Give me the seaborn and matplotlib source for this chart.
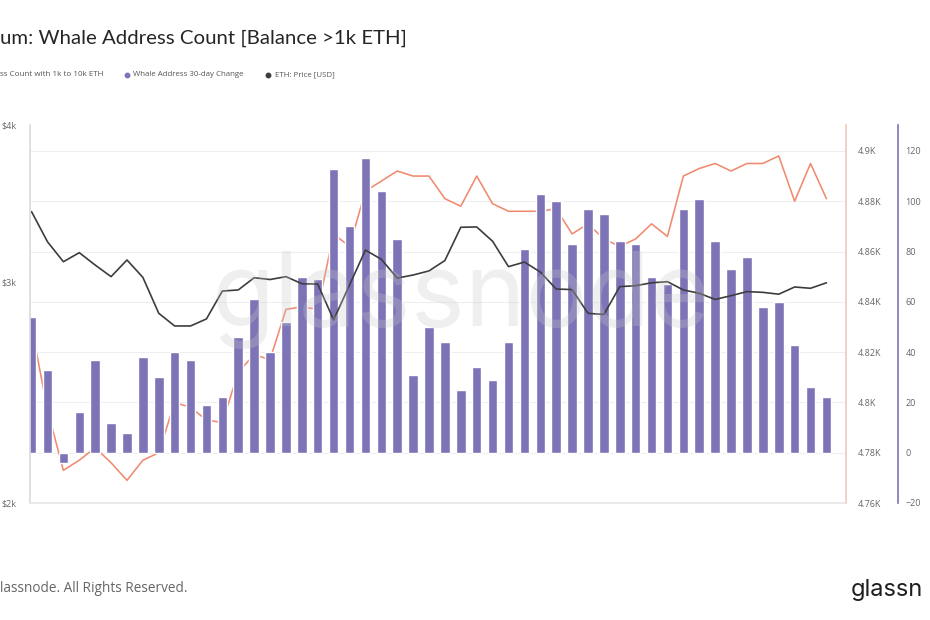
import matplotlib

matplotlib.use("Agg")
import matplotlib.pyplot as plt
import seaborn as sns
from matplotlib.lines import Line2D
from matplotlib.ticker import FixedLocator, FuncFormatter, NullLocator

# daily values from 12 Nov to 01 Jan (51 days)
whale_change = [
    54, 33, -4, 16, 37, 12, 8, 38, 30, 40, 37, 19, 22, 46, 61, 40, 52, 70, 69,
    113, 90, 117, 104, 85, 31, 50, 44, 25, 34, 29, 44, 81, 103, 100, 83, 97, 95, 84,
    83, 70, 67, 97, 101, 84, 73, 78, 58, 60, 43, 26, 22,
]
whale_count = [
    4830, 4797, 4773, 4777, 4782, 4776, 4769, 4777, 4780, 4800, 4798, 4793, 4792,
    4812, 4819, 4817, 4837, 4838, 4837, 4867, 4862, 4884, 4888, 4892, 4890, 4890,
    4881, 4878, 4890, 4879, 4876, 4876, 4876, 4877, 4867, 4871, 4865, 4862, 4865,
    4871, 4866, 4890, 4893, 4895, 4892, 4895, 4895, 4898, 4880, 4895, 4881,
]
eth_price = [
    3412, 3229, 3113, 3165, 3094, 3029, 3123, 3025, 2832, 2767, 2767, 2803, 2950,
    2956, 3023, 3013, 3029, 2990, 2988, 2798, 2983, 3180, 3127, 3021, 3038, 3061,
    3120, 3316, 3318, 3232, 3085, 3111, 3055, 2961, 2958, 2832, 2826, 2974, 2979,
    2995, 3001, 2956, 2938, 2905, 2925, 2947, 2943, 2933, 2972, 2965, 2995,
]
days = list(range(len(whale_change)))
tick_labels = [
    "12 Nov", "15 Nov", "18 Nov", "21 Nov", "24 Nov", "27 Nov", "30 Nov",
    "03 Dec", "06 Dec", "09 Dec", "12 Dec", "15 Dec", "18 Dec", "21 Dec",
    "24 Dec", "27 Dec", "30 Dec", "02 Jan",
]

BAR_COLOR = "#7d74b8"
COUNT_COLOR = "#f08a70"
PRICE_COLOR = "#3d3d3d"
TEXT_COLOR = "#666666"
FONT = ["Open Sans", "DejaVu Sans"]

sns.set_theme(style="white")
plt.rcParams["font.family"] = FONT

W, H = 930, 620
fig = plt.figure(figsize=(W / 100, H / 100), dpi=100)

# axes box in pixels: left 30, right 845.5, top 125, bottom 503
ax_cnt = fig.add_axes([30 / W, 1 - 503 / H, 815.5 / W, 378 / H])
ax_chg = ax_cnt.twinx()
ax_price = ax_cnt.twinx()

# orange line at the back, bars in between, price on top
ax_cnt.set_zorder(1)
ax_chg.set_zorder(2)
ax_price.set_zorder(3)
ax_chg.patch.set_visible(False)
ax_price.patch.set_visible(False)

sns.lineplot(x=days, y=whale_count, ax=ax_cnt, color=COUNT_COLOR, linewidth=1.15)
sns.barplot(
    x=days,
    y=whale_change,
    ax=ax_chg,
    color=BAR_COLOR,
    saturation=1,
    width=0.6,
    native_scale=True,
)
sns.lineplot(x=days, y=eth_price, ax=ax_price, color=PRICE_COLOR, linewidth=1.2)

# whale count axis (right, orange)
ax_cnt.set_ylim(4760, 4910.3)
ax_cnt.yaxis.set_major_locator(FixedLocator(range(4760, 4901, 20)))
ax_cnt.yaxis.set_major_formatter(FuncFormatter(lambda v, _: f"{v / 1000:g}K"))
ax_cnt.yaxis.tick_right()
ax_cnt.tick_params(axis="y", length=0, pad=8.5, labelsize=6.5, labelcolor=TEXT_COLOR)
ax_cnt.grid(axis="y", color="#efefef", linewidth=0.8)
ax_cnt.grid(axis="x", visible=False)

# 30-day change axis (right, purple, offset)
ax_chg.set_ylim(-20, 130.3)
ax_chg.yaxis.set_major_locator(FixedLocator(range(-20, 121, 20)))
ax_chg.spines["right"].set_position(("axes", (898 - 30) / 815.5))
ax_chg.tick_params(axis="y", length=0, pad=5.5, labelsize=6.5, labelcolor=TEXT_COLOR)
ax_chg.grid(False)

# price axis (left, log)
ax_price.set_yscale("log")
ax_price.set_ylim(2000, 4000)
ax_price.yaxis.tick_left()
ax_price.yaxis.set_major_locator(FixedLocator([2000, 3000, 4000]))
ax_price.yaxis.set_major_formatter(FuncFormatter(lambda v, _: f"${v / 1000:g}k"))
ax_price.yaxis.set_minor_locator(NullLocator())
ax_price.tick_params(axis="y", length=0, pad=10, labelsize=6.5, labelcolor=TEXT_COLOR)
ax_price.grid(False)

for ax in (ax_cnt, ax_chg, ax_price):
    ax.set_xlabel("")
    ax.set_ylabel("")
    for side in ("left", "right", "top", "bottom"):
        ax.spines[side].set_visible(False)

ax_price.spines["left"].set_visible(True)
ax_price.spines["left"].set_color("#dcdcdc")
ax_price.spines["bottom"].set_visible(True)
ax_price.spines["bottom"].set_color("#e6e6e6")
ax_cnt.spines["right"].set_visible(True)
ax_cnt.spines["right"].set_color("#f3cbbf")
ax_chg.spines["right"].set_visible(True)
ax_chg.spines["right"].set_color(BAR_COLOR)
ax_chg.spines["right"].set_linewidth(1.2)

ax_price.set_xlim(-0.1, 51.2)
ax_price.xaxis.set_major_locator(FixedLocator(range(0, 52, 3)))
ax_price.set_xticklabels(tick_labels)
ax_price.tick_params(
    axis="x", bottom=True, length=2.5, width=0.6, color="#cccccc",
    pad=7, labelsize=6.5, labelcolor=TEXT_COLOR,
)
ax_cnt.tick_params(axis="x", bottom=False, labelbottom=False)
ax_chg.tick_params(axis="x", bottom=False, labelbottom=False)

# title, legend, footer (the source screenshot is cropped left and right)
fig.text(0, 1 - 38 / H, "um: Whale Address Count [Balance >1k ETH]",
         ha="left", va="center", fontsize=14.7, color="#262626",
         family=["Lato", "DejaVu Sans"])

leg_y = 1 - 75 / H
fig.text(0, leg_y, "ss Count with 1k to 10k ETH",
         ha="left", va="center", fontsize=5.8, color="#555555")
for x_dot, x_txt, col, label in [
    (127, 133, BAR_COLOR, "Whale Address 30-day Change"),
    (268, 275, PRICE_COLOR, "ETH: Price [USD]"),
]:
    fig.add_artist(Line2D([x_dot / W], [leg_y], marker="o", markersize=3.2,
                          color=col, linestyle="none", transform=fig.transFigure))
    fig.text(x_txt / W, leg_y, label, ha="left", va="center", fontsize=5.7,
             color="#555555")

fig.text(0, 1 - 588 / H, "lassnode. All Rights Reserved.",
         ha="left", va="center", fontsize=9.8, color=TEXT_COLOR)
fig.text(851 / W, 1 - 590 / H, "glassn", ha="left", va="center",
         fontsize=17, color="#1e1e1e", family=["Inter", "DejaVu Sans"])

# watermark
fig.text(461 / W, 1 - 300 / H, "glassnode", ha="center", va="center",
         fontsize=74, color="#c8c8c8", alpha=0.28, zorder=10,
         family=["Inter", "DejaVu Sans"])

fig.savefig("out.png", dpi=100)
